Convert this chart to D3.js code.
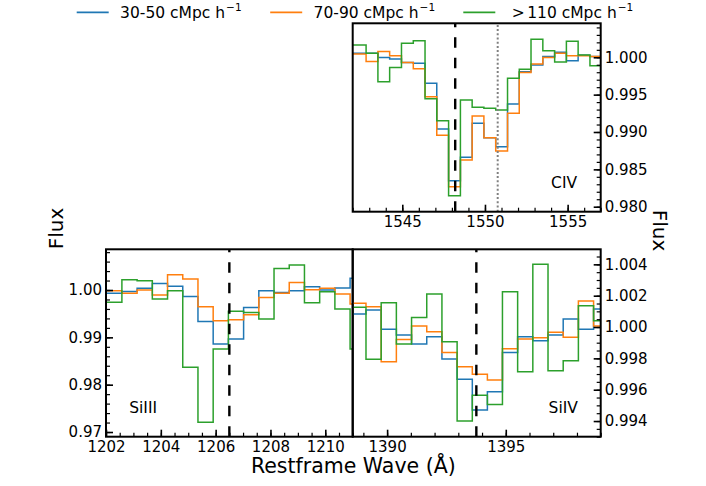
<!DOCTYPE html>
<html>
<head>
<meta charset="utf-8">
<script src="https://cdn.jsdelivr.net/npm/d3@7"></script>
<style>
  body { margin: 0; background: #fff; }
  svg { font-family: "DejaVu Sans", sans-serif; display: block; }
</style>
</head>
<body>
<div id="chart"></div>
<script>
// bins of ~140 km/s, stacked spectra in three separation ranges
const seriesLabels = ["30-50 cMpc h", "70-90 cMpc h", "110 cMpc h"];
const seriesColors = ["#1f77b4", "#ff7f0e", "#2ca02c"];

const civWave = [1541.74, 1542.45, 1543.17, 1543.88, 1544.59, 1545.31, 1546.02, 1546.73, 1547.44, 1548.16, 1548.87, 1549.58,
    1550.29, 1551.01, 1551.72, 1552.43, 1553.14, 1553.86, 1554.57, 1555.28, 1555.99, 1556.71, 1557.42];
const civFlux3050 = [1.00054, 1.00054, 1.00054, 0.99996, 0.99978, 0.99929, 0.9992, 0.99652, 0.9904, 0.98348, 0.98661, 0.99116,
    0.98924, 0.98804, 0.99375, 0.99808, 0.99897, 1.00009, 1.00067, 0.99955, 1.00027, 1.00009, 1.00009];
const civFlux7090 = [1.00045, 1.00045, 0.99942, 1.00076, 1.00022, 0.99929, 0.99848, 0.99473, 0.98955, 0.98268, 0.98625, 0.99214,
    0.98924, 0.98746, 0.9925, 0.99795, 0.99911, 0.99996, 1.00054, 1.00022, 1.00022, 1.00009, 1.00009];
const civFlux110 = [1.00165, 1.00165, 1.00054, 0.99674, 0.99862, 1.00188, 1.00223, 0.99446, 0.99152, 0.98147, 0.99429, 0.9933,
    0.99317, 0.99295, 0.99719, 0.99839, 1.00241, 1.00089, 0.99938, 1.00214, 1.00031, 0.99888, 0.99888];

const siiiiWave = [1201.75, 1202.30, 1202.86, 1203.41, 1203.97, 1204.52, 1205.08, 1205.63, 1206.19, 1206.74, 1207.30, 1207.85,
    1208.41, 1208.96, 1209.52, 1210.07, 1210.63, 1211.18];
const siiiiFlux3050 = [0.99929, 0.99929, 0.99971, 1.00035, 1.0014, 1.00077, 0.99865, 0.99337, 0.98858, 0.98964, 0.99633, 0.99985,
    0.9995, 0.99985, 1.0007, 0.99999, 1.00042, 1.00246];
const siiiiFlux7090 = [0.99985, 0.99985, 0.99929, 0.99999, 0.99894, 1.00323, 1.00232, 0.99647, 0.99351, 0.99373, 0.99478, 0.99844,
    0.99929, 1.00161, 1.00006, 1.00035, 0.99915, 0.99704];
const siiiiFlux110 = [0.99739, 0.99739, 1.00218, 1.00196, 0.99809, 0.99985, 0.98366, 0.97204, 0.98753, 0.99549, 0.99527, 0.99387,
    1.00457, 1.00527, 0.99732, 0.99964, 0.99598, 0.98753];

const siivWave = [1388.15, 1388.79, 1389.43, 1390.07, 1390.71, 1391.35, 1391.99, 1392.63, 1393.27, 1393.91, 1394.54, 1395.18,
    1395.82, 1396.46, 1397.10, 1397.74, 1398.38, 1399.02];
const siivFlux3050 = [1.00083, 1.00083, 1.00108, 0.99985, 0.99949, 0.99892, 0.99938, 0.99796, 0.99666, 0.9947, 0.99587, 0.99838,
    0.99938, 0.99913, 0.99949, 1.00051, 0.99985, 1.00115];
const siivFlux7090 = [1.00151, 1.00151, 1.0013, 0.99779, 0.99921, 1.00006, 0.9997, 0.99838, 0.99747, 0.99698, 0.99662, 0.99862,
    0.99923, 0.99932, 0.99966, 0.99934, 1.00166, 1.00006];
const siivFlux110 = [1.00126, 1.00126, 0.99794, 1.00155, 0.99892, 1.0006, 1.00211, 0.99906, 0.994, 0.99564, 0.99506, 1.00225,
    0.99715, 1.004, 0.99721, 0.99785, 1.00136, 1.0004];

// rest wavelengths marked in each panel
const civLines = [1548.20];
const civDoublet = [1550.77];
const siiiiLines = [1206.50];
const siivLines = [1393.76];

// tick labels
const civXTicks = [1545, 1550, 1555];
const civYTicks = [0.980, 0.985, 0.990, 0.995, 1.000];
const siiiiXTicks = [1202, 1204, 1206, 1208, 1210];
const siiiiYTicks = [0.97, 0.98, 0.99, 1.00];
const siivXTicks = [1390, 1395];
const siivYTicks = [0.994, 0.996, 0.998, 1.000, 1.002, 1.004];

const width = 706, height = 486;
const tickFont = 15;

const panels = [
    {
        name: "CIV", wave: civWave, flux: [civFlux3050, civFlux7090, civFlux110],
        box: {left: 352.7, right: 600.7, top: 23.3, bottom: 211.7},
        xDomain: [1542, 1557], yDomain: [0.97933, 1.00455],
        xTicks: civXTicks, xMinor: 1, yTicks: civYTicks, yMinor: 0.001, yFormat: ".3f", ySide: "right",
        dashed: civLines, dotted: civDoublet, labelAt: [0.80, 0.125]
    },
    {
        name: "SiIII", wave: siiiiWave, flux: [siiiiFlux3050, siiiiFlux7090, siiiiFlux110],
        box: {left: 106, right: 352.7, top: 249.3, bottom: 436.7},
        xDomain: [1202, 1211], yDomain: [0.96901, 1.0086],
        xTicks: siiiiXTicks, xMinor: 0.5, yTicks: siiiiYTicks, yMinor: 0.002, yFormat: ".2f", ySide: "left",
        dashed: siiiiLines, dotted: [], labelAt: [0.094, 0.125]
    },
    {
        name: "SiIV", wave: siivWave, flux: [siivFlux3050, siivFlux7090, siivFlux110],
        box: {left: 352.7, right: 600.7, top: 249.3, bottom: 436.7},
        xDomain: [1388.55, 1399.0], yDomain: [0.9930, 1.00496],
        xTicks: siivXTicks, xMinor: 1, yTicks: siivYTicks, yMinor: 0.0005, yFormat: ".3f", ySide: "right",
        dashed: siivLines, dotted: [], labelAt: [0.79, 0.125]
    }
];

const svg = d3.select("#chart").append("svg")
    .attr("width", width)
    .attr("height", height)
    .attr("viewBox", [0, 0, width, height]);

function minorValues(domain, step) {
    const lo = Math.ceil(domain[0] / step - 1e-6), hi = Math.floor(domain[1] / step + 1e-6);
    return d3.range(lo, hi + 1).map(k => +(k * step).toFixed(6));
}

function styleAxis(g, major) {
    g.select(".domain").remove();
    g.selectAll(".tick line").attr("stroke", "#000").attr("stroke-width", major ? 1.6 : 1.2);
    g.selectAll(".tick text").attr("fill", "#000").style("font-size", tickFont + "px")
        .style("font-family", "'DejaVu Sans', sans-serif");
}

panels.forEach((p, i) => {
    const b = p.box;
    const x = d3.scaleLinear().domain(p.xDomain).range([b.left, b.right]);
    const y = d3.scaleLinear().domain(p.yDomain).range([b.bottom, b.top]);

    const clipId = "clip" + i;
    svg.append("clipPath").attr("id", clipId)
        .append("rect")
        .attr("x", b.left).attr("y", b.top)
        .attr("width", b.right - b.left).attr("height", b.bottom - b.top);

    const plot = svg.append("g").attr("clip-path", `url(#${clipId})`);

    const line = d3.line()
        .x((d, j) => x(p.wave[j]))
        .y(d => y(d))
        .curve(d3.curveStep);

    p.flux.forEach((f, k) => {
        plot.append("path")
            .attr("d", line(f))
            .attr("fill", "none")
            .attr("stroke", seriesColors[k])
            .attr("stroke-width", 1.5)
            .attr("stroke-linejoin", "miter");
    });

    plot.selectAll(".dash").data(p.dashed).join("line")
        .attr("x1", d => x(d)).attr("x2", d => x(d))
        .attr("y1", b.bottom).attr("y2", b.top)
        .attr("stroke", "#000").attr("stroke-width", 2.4)
        .attr("stroke-dasharray", "10.5,10");

    plot.selectAll(".dot").data(p.dotted).join("line")
        .attr("x1", d => x(d)).attr("x2", d => x(d))
        .attr("y1", b.bottom).attr("y2", b.top)
        .attr("stroke", "#808080").attr("stroke-width", 2)
        .attr("stroke-dasharray", "2,2.2");

    // x axis, ticks pointing in
    svg.append("g").attr("transform", `translate(0,${b.bottom})`)
        .call(d3.axisBottom(x).tickValues(minorValues(p.xDomain, p.xMinor)).tickSize(-4).tickFormat(""))
        .call(g => styleAxis(g, false));
    svg.append("g").attr("transform", `translate(0,${b.bottom})`)
        .call(d3.axisBottom(x).tickValues(p.xTicks).tickSize(-7).tickPadding(4.3).tickFormat(d3.format("d")))
        .call(g => styleAxis(g, true));

    // y axis on the labelled side
    const yAxis = p.ySide === "right" ? d3.axisRight : d3.axisLeft;
    const yPos = p.ySide === "right" ? b.right : b.left;
    svg.append("g").attr("transform", `translate(${yPos},0)`)
        .call(yAxis(y).tickValues(minorValues(p.yDomain, p.yMinor)).tickSize(-4).tickFormat(""))
        .call(g => styleAxis(g, false));
    svg.append("g").attr("transform", `translate(${yPos},0)`)
        .call(yAxis(y).tickValues(p.yTicks).tickSize(-7).tickPadding(4).tickFormat(d3.format(p.yFormat)))
        .call(g => styleAxis(g, true));

    svg.append("rect")
        .attr("x", b.left).attr("y", b.top)
        .attr("width", b.right - b.left).attr("height", b.bottom - b.top)
        .attr("fill", "none").attr("stroke", "#000").attr("stroke-width", 2);

    svg.append("text")
        .attr("x", b.left + p.labelAt[0] * (b.right - b.left))
        .attr("y", b.bottom - p.labelAt[1] * (b.bottom - b.top))
        .style("font-size", "15.5px")
        .text(p.name);
});

// axis titles
svg.append("text")
    .attr("transform", "translate(63.3,228.5) rotate(-90)")
    .attr("text-anchor", "middle")
    .style("font-size", "20px")
    .text("Flux");
svg.append("text")
    .attr("transform", "translate(652.7,230.5) rotate(90)")
    .attr("text-anchor", "middle")
    .style("font-size", "20px")
    .text("Flux");
svg.append("text")
    .attr("x", 353.3).attr("y", 473)
    .attr("text-anchor", "middle")
    .style("font-size", "20.5px")
    .text("Restframe Wave (Å)");

// legend
const legendX = [76.7, 270.2, 463.3];
const legend = svg.append("g");
seriesLabels.forEach((lab, k) => {
    const lx = legendX[k];
    legend.append("line")
        .attr("x1", lx).attr("x2", lx + 32)
        .attr("y1", 12.3).attr("y2", 12.3)
        .attr("stroke", seriesColors[k]).attr("stroke-width", 1.7);
    const t = legend.append("text")
        .attr("x", lx + (k === 2 ? 48.4 : 43.4)).attr("y", 17.7)
        .style("font-size", "15.5px");
    if (k === 2) {
        t.append("tspan").text(">");
        t.append("tspan").attr("dx", 2.5).text(lab);
    } else {
        t.append("tspan").text(lab);
    }
    t.append("tspan").attr("dx", 1).attr("dy", -6.5).style("font-size", "10.5px").text("\u22121");
});
</script>
</body>
</html>
